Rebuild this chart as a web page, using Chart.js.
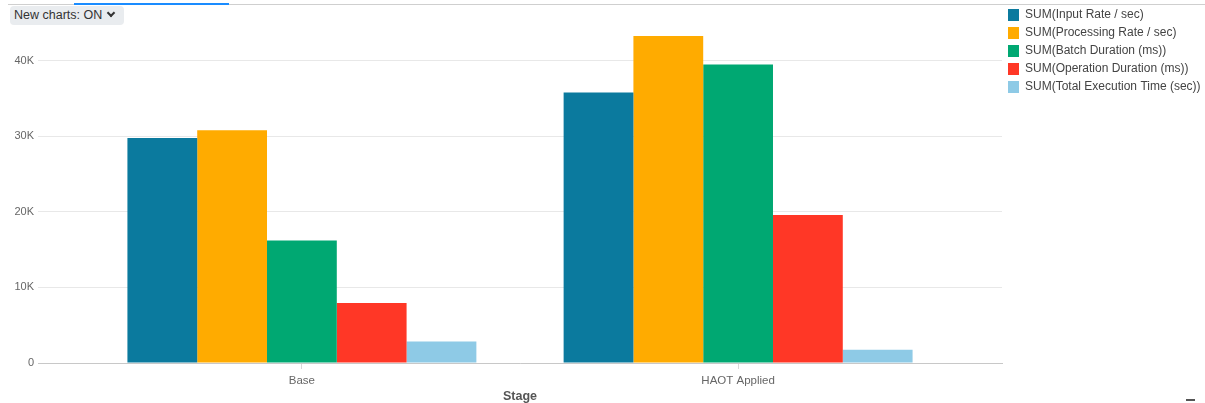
<!DOCTYPE html>
<html>
<head>
<meta charset="utf-8">
<title>Stage metrics</title>
<script src="https://cdn.jsdelivr.net/npm/chart.js@4.4.1/dist/chart.umd.min.js"></script>
<style>
  html, body { margin: 0; padding: 0; background: #fff; overflow: hidden; }
  #wrap { position: relative; width: 1205px; height: 403px; }
  #chart { position: absolute; left: 0; top: 0; }
  .tabline { position: absolute; left: 8px; right: 0; top: 4px; height: 1px; background: #cfcfcf; }
  .tabactive { position: absolute; left: 74px; width: 155px; top: 3px; height: 2px; background: #1a8cff; }
  .toggle {
    position: absolute; left: 10px; top: 6px; height: 19px; width: 114px;
    background: #e9ecef; border-radius: 4px; box-sizing: border-box; padding-left: 4px;
    font: 12.5px "Liberation Sans", Arial, sans-serif; color: #333; line-height: 19px; white-space: nowrap;
  }
  .chev {
    display: inline-block; width: 4px; height: 4px; margin-left: 6px; position: relative; top: -3px;
    border-right: 2px solid #333; border-bottom: 2px solid #333; transform: rotate(45deg);
  }
  .dash { position: absolute; left: 1186px; top: 399px; width: 9px; height: 2px; background: #555; }
</style>
</head>
<body>
<div id="wrap">
  <canvas id="chart" width="1205" height="403"></canvas>
  <div class="tabline"></div>
  <div class="tabactive"></div>
  <div class="toggle">New charts: ON<span class="chev"></span></div>
  <div class="dash"></div>
</div>
<script>
// Categories and series values
const stages = ['Base', 'HAOT Applied'];
const inputRate = [29800, 35800];
const processingRate = [30800, 43300];
const batchDuration = [16200, 39500];
const operationDuration = [7930, 19600];
const totalExecutionTime = [2830, 1770];

const seriesNames = [
  'SUM(Input Rate / sec)',
  'SUM(Processing Rate / sec)',
  'SUM(Batch Duration (ms))',
  'SUM(Operation Duration (ms))',
  'SUM(Total Execution Time (sec))'
];
const seriesColors = ['#0b7a9e', '#ffab00', '#00a872', '#ff3726', '#8ecae6'];
const yTickValues = [0, 10000, 20000, 30000, 40000];

const FONT = '"Liberation Sans", Arial, Helvetica, sans-serif';

const seriesValues = [inputRate, processingRate, batchDuration, operationDuration, totalExecutionTime];
const datasets = seriesValues.map((vals, k) => ({
  label: seriesNames[k],
  data: stages.map((s, i) => ({ x: i, y: vals[i] })),
  backgroundColor: seriesColors[k],
  borderWidth: 0,
  categoryPercentage: 0.8,
  barPercentage: 1.0
}));

new Chart(document.getElementById('chart'), {
  type: 'bar',
  data: { datasets },
  options: {
    responsive: false,
    devicePixelRatio: 1,
    animation: false,
    layout: { padding: { top: 3, right: 0, bottom: 0, left: 0 } },
    plugins: {
      tooltip: { enabled: false },
      legend: {
        position: 'right',
        align: 'start',
        maxWidth: 203,
        labels: {
          boxWidth: 11,
          boxHeight: 12,
          padding: 6,
          color: '#444',
          font: { family: FONT, size: 12 }
        }
      }
    },
    scales: {
      x: {
        type: 'linear',
        position: 'bottom',
        offset: false,
        min: -0.605,
        max: 1.605,
        afterBuildTicks: (scale) => { scale.ticks = stages.map((s, i) => ({ value: i })); },
        afterFit: (scale) => { scale.height = 40; },
        ticks: {
          color: '#666',
          padding: 5,
          font: { family: FONT, size: 11.5 },
          callback: (v) => stages[v]
        },
        grid: { offset: false, drawOnChartArea: false, drawTicks: true, tickLength: 6, color: '#d8d8d8' },
        border: { display: true, color: '#c8c8c8', width: 1 },
        title: {
          display: true,
          text: 'Stage',
          color: '#555',
          padding: { top: 0, bottom: -1.5 },
          font: { family: FONT, size: 12.5, weight: 'bold' }
        }
      },
      y: {
        min: 0,
        max: 46650,
        afterBuildTicks: (scale) => { scale.ticks = yTickValues.map(v => ({ value: v })); },
        afterFit: (scale) => { scale.width = 38; },
        ticks: {
          color: '#666',
          padding: 4,
          font: { family: FONT, size: 11 },
          callback: (v) => v === 0 ? '0' : (v / 1000) + 'K'
        },
        grid: { drawTicks: false, color: '#e8e8e8' },
        border: { display: false }
      }
    }
  }
});
</script>
</body>
</html>
